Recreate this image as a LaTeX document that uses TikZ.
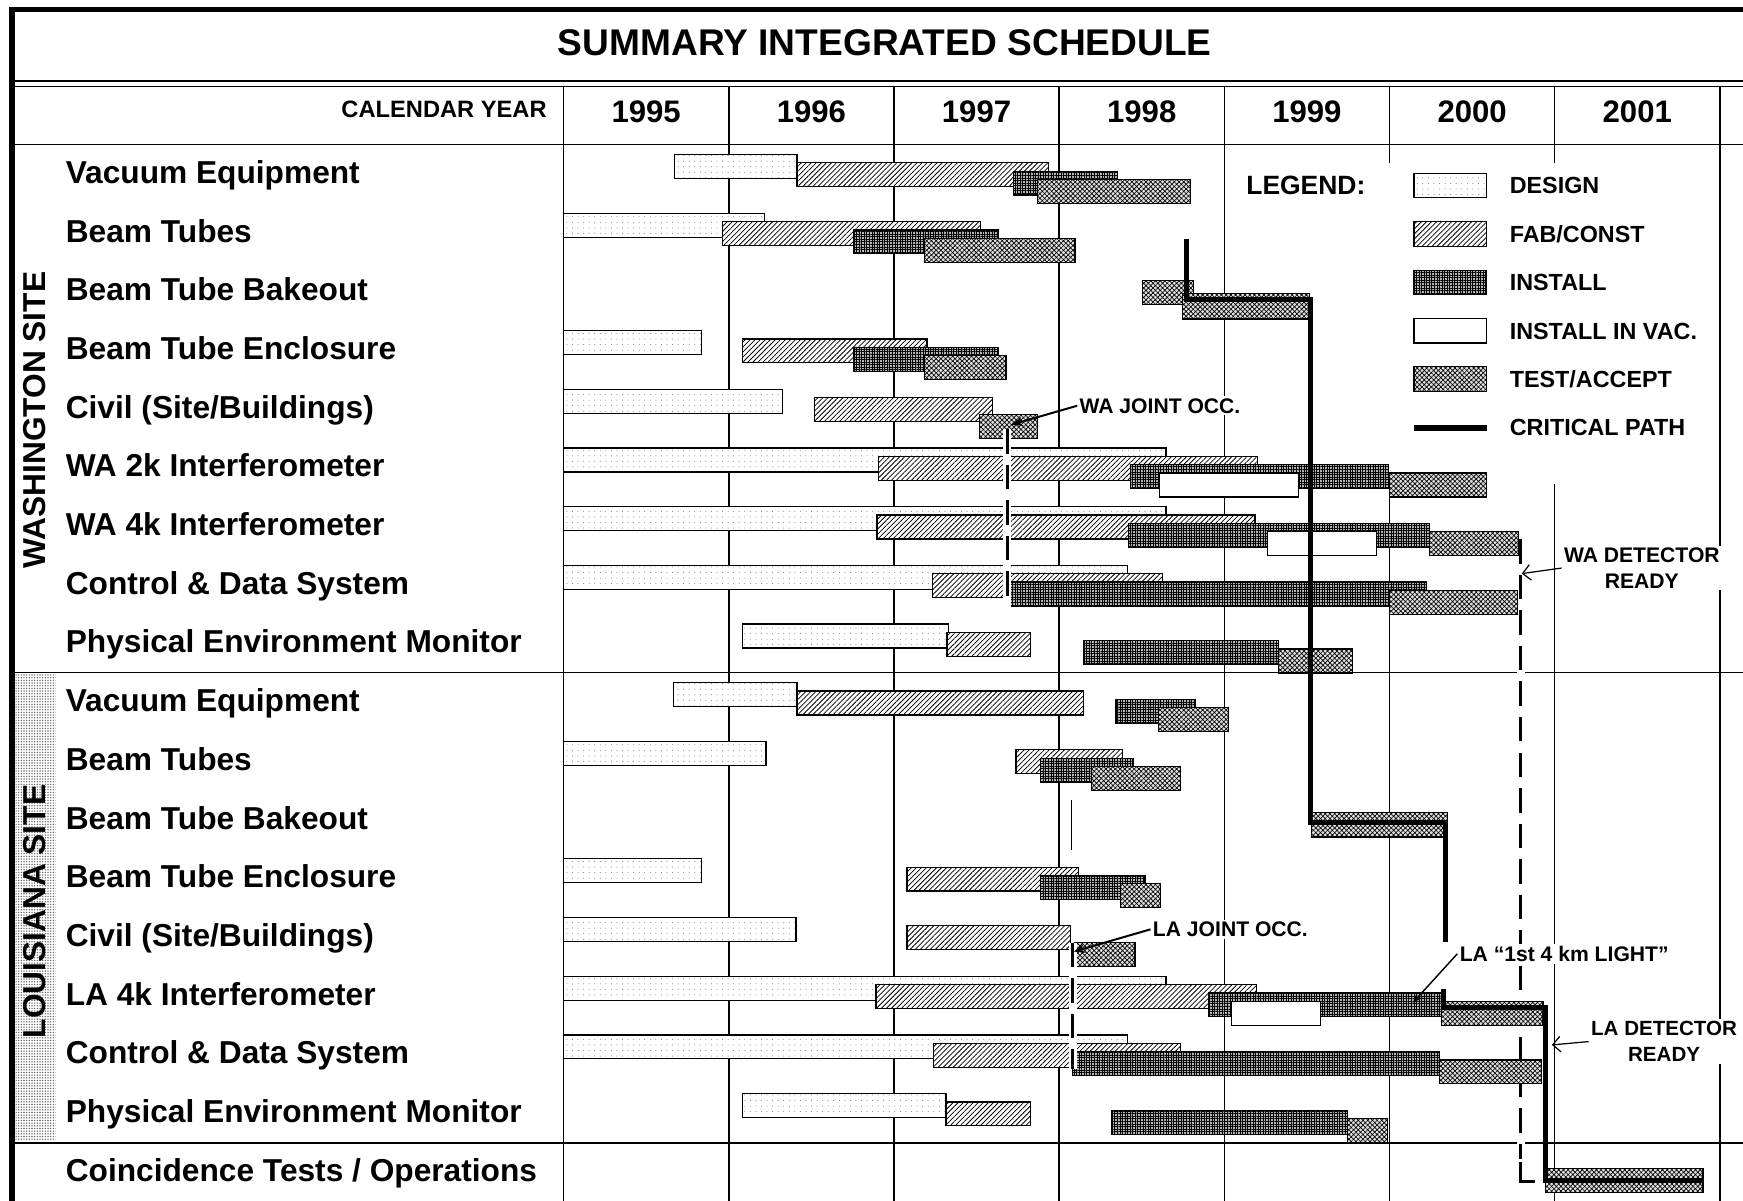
\documentclass[tikz,border=0pt]{standalone}
\usepackage{fontspec}
\setmainfont{Liberation Sans}
\usetikzlibrary{patterns.meta,arrows.meta}
\tikzset{bar/.style={draw=black, line width=1.1pt},
  design/.style={bar, preaction={fill=white}, pattern={Dots[distance=5pt,radius=0.45pt]}, pattern color=black!55},
  fab/.style={bar, preaction={fill=white}, pattern={Lines[angle=45,distance=3.2pt,line width=0.7pt]}},
  install/.style={bar, preaction={fill=black!30}, pattern={Hatch[angle=0,distance=2.3pt,line width=0.5pt]}},
  invac/.style={bar, fill=white},
  test/.style={bar, preaction={fill=black!12}, pattern={Hatch[angle=45,distance=3pt,line width=0.6pt]}},
  critpath/.style={line width=4.5pt},
  gridline/.style={line width=1.3pt},
  rowlabel/.style={font=\fontsize{28.5}{30}\selectfont\bfseries, anchor=base west, inner sep=0pt},
  yearlabel/.style={font=\fontsize{28}{30}\selectfont\bfseries, anchor=base, inner sep=0pt},
  sitelabel/.style={font=\fontsize{28.5}{30}\selectfont\bfseries, rotate=90, inner sep=0pt},
  legendtext/.style={font=\fontsize{21}{23}\selectfont\bfseries, anchor=base west, inner sep=0pt},
  note/.style={font=\fontsize{19}{23}\selectfont\bfseries, fill=white, inner sep=2pt, align=center},
  notearrow/.style={line width=1.8pt, -{Stealth[length=10pt,width=8pt]}},
  readyarrow/.style={line width=1.1pt, -{Straight Barb[length=7pt,width=14pt]}},
  jointcase/.style={white, line width=7pt},
  jointdash/.style={line width=2.6pt, dash pattern=on 22pt off 10pt}}
% row r, level k -> bar
\newcommand{\phasebar}[5]{\draw[#1] (#4,{139+52.8*#2+7.5*#3}) rectangle (#5,{160.5+52.8*#2+7.5*#3});}

\begin{document}
\begin{tikzpicture}[x=1pt,y=-1pt]
\useasboundingbox (0,0) rectangle (1568,1080);
\clip (0,0) rectangle (1568,1080);

% frame and rules
\draw[line width=4.5pt] (8.5,8.5)--(1568,8.5);
\draw[line width=5pt] (11,6)--(11,1080);
\draw[line width=1.2pt] (11,73)--(1568,73);
\draw[line width=1.2pt] (11,78)--(1568,78);
\draw[line width=1.5pt] (11,130)--(1568,130);
\draw[line width=1.5pt] (11,605)--(1568,605);
\draw[line width=1.5pt] (11,1028)--(1568,1028);
\draw[gridline] (507,78)--(507,1080);
\draw[gridline] (655.6,78)--(655.6,1080);
\draw[gridline] (804.2,78)--(804.2,1080);
\draw[gridline] (952.8,78)--(952.8,1080);
\draw[gridline] (1101.4,78)--(1101.4,1080);
\draw[gridline] (1250,78)--(1250,1080);
\draw[gridline] (1398.6,78)--(1398.6,1080);
\draw[gridline] (1547.2,78)--(1547.2,1080);
\fill[white] (1245,147) rectangle (1540,435);
\fill[pattern={Dots[distance=2.4pt,radius=0.7pt]}, pattern color=black!60] (14,607) rectangle (50,1026);

% headings
\node[font=\fontsize{33.4}{36}\selectfont\bfseries, anchor=base, inner sep=0pt] (title) at (796,50) {SUMMARY INTEGRATED SCHEDULE};
\node[font=\fontsize{21.3}{23}\selectfont\bfseries, anchor=base east, inner sep=0pt] (calyear) at (492,106) {CALENDAR YEAR};
\node[yearlabel] (y95) at (581.3,110) {1995};
\node[yearlabel] (y96) at (729.9,110) {1996};
\node[yearlabel] (y97) at (878.5,110) {1997};
\node[yearlabel] (y98) at (1027.1,110) {1998};
\node[yearlabel] (y99) at (1175.7,110) {1999};
\node[yearlabel] (y00) at (1324.3,110) {2000};
\node[yearlabel] (y01) at (1472.9,110) {2001};

\node[sitelabel] (wa-site) at (31,378) {WASHINGTON SITE};
\node[sitelabel] (la-site) at (31,820) {LOUISIANA SITE};

\node[rowlabel] (wa-vac) at (59,165) {Vacuum Equipment};
\node[rowlabel] (wa-tube) at (59,217.8) {Beam Tubes};
\node[rowlabel] (wa-bake) at (59,270.6) {Beam Tube Bakeout};
\node[rowlabel] (wa-encl) at (59,323.4) {Beam Tube Enclosure};
\node[rowlabel] (wa-civil) at (59,376.2) {Civil (Site/Buildings)};
\node[rowlabel] (wa-2k) at (59,429) {WA 2k Interferometer};
\node[rowlabel] (wa-4k) at (59,481.8) {WA 4k Interferometer};
\node[rowlabel] (wa-cds) at (59,534.6) {Control \& Data System};
\node[rowlabel] (wa-pem) at (59,587.4) {Physical Environment Monitor};
\node[rowlabel] (la-vac) at (59,640.2) {Vacuum Equipment};
\node[rowlabel] (la-tube) at (59,693) {Beam Tubes};
\node[rowlabel] (la-bake) at (59,745.8) {Beam Tube Bakeout};
\node[rowlabel] (la-encl) at (59,798.6) {Beam Tube Enclosure};
\node[rowlabel] (la-civil) at (59,851.4) {Civil (Site/Buildings)};
\node[rowlabel] (la-4k) at (59,904.2) {LA 4k Interferometer};
\node[rowlabel] (la-cds) at (59,957) {Control \& Data System};
\node[rowlabel] (la-pem) at (59,1009.8) {Physical Environment Monitor};
\node[rowlabel] (coinc) at (59,1062.6) {Coincidence Tests / Operations};

% detector ready line (behind the bars)
\draw[jointcase] (1368,485)--(1368,1045);
\draw[jointdash] (1368,485)--(1368,1043);
\draw[line width=2.6pt] (1368,1045)--(1368,1063)--(1381,1063);

% Washington bars
\phasebar{design}{0}{0}{607}{717}
\phasebar{fab}{0}{1}{717}{943}
\phasebar{install}{0}{2}{912}{1005}
\phasebar{test}{0}{3}{933}{1071}
\phasebar{design}{1}{0}{507}{688}
\phasebar{fab}{1}{1}{650}{882}
\phasebar{install}{1}{2}{768}{898}
\phasebar{test}{1}{3}{832}{967}
\draw[test] (1028,252) rectangle (1074,274);
\draw[test] (1064,264) rectangle (1178,287);
\phasebar{design}{3}{0}{507}{631}
\phasebar{fab}{3}{1}{668}{834}
\phasebar{install}{3}{2}{768}{898}
\phasebar{test}{3}{3}{832}{905}
\phasebar{design}{4}{0}{507}{704}
\phasebar{fab}{4}{1}{733}{893}
\phasebar{test}{4}{3}{881}{933}
\phasebar{design}{5}{0}{507}{1049}
\phasebar{fab}{5}{1}{790}{1131}
\phasebar{install}{5}{2}{1017}{1249}
\phasebar{invac}{5}{3}{1043}{1168}
\phasebar{test}{5}{3}{1250}{1337}
\phasebar{design}{6}{0}{507}{1049}
\phasebar{fab}{6}{1}{789}{1129}
\phasebar{install}{6}{2}{1015}{1286}
\phasebar{invac}{6}{3}{1140}{1238}
\phasebar{test}{6}{3}{1286}{1366}
\phasebar{design}{7}{0}{507}{1014}
\phasebar{fab}{7}{1}{839}{1046}
\phasebar{install}{7}{2}{905}{1283}
\phasebar{test}{7}{3}{1250}{1365}
\phasebar{design}{8}{0}{668}{853}
\phasebar{fab}{8}{1}{852}{927}
\phasebar{install}{8}{2}{975}{1150}
\phasebar{test}{8}{3}{1150}{1217}

% Louisiana bars
\phasebar{design}{9}{0}{606}{717}
\phasebar{fab}{9}{1}{717}{975}
\phasebar{install}{9}{2}{1004}{1075}
\phasebar{test}{9}{3}{1042}{1105}
\phasebar{design}{10}{0}{507}{689}
\phasebar{fab}{10}{1}{914}{1010}
\phasebar{install}{10}{2}{936}{1020}
\phasebar{test}{10}{3}{982}{1062}
\draw[test] (1180,731) rectangle (1302,753);
\phasebar{design}{12}{0}{507}{631}
\phasebar{fab}{12}{1}{816}{970}
\phasebar{install}{12}{2}{936}{1030}
\phasebar{test}{12}{3}{1008}{1044}
\phasebar{design}{13}{0}{507}{716}
\phasebar{fab}{13}{1}{816}{963}
\phasebar{test}{13}{3}{967}{1021}
\phasebar{design}{14}{0}{507}{1049}
\phasebar{fab}{14}{1}{788}{1130}
\phasebar{install}{14}{2}{1087}{1298}
\phasebar{invac}{14}{3}{1108}{1188}
\phasebar{test}{14}{3}{1297}{1388}
\phasebar{design}{15}{0}{507}{1014}
\phasebar{fab}{15}{1}{840}{1062}
\phasebar{install}{15}{2}{965}{1295}
\phasebar{test}{15}{3}{1295}{1387}
\phasebar{design}{16}{0}{668}{851}
\phasebar{fab}{16}{1}{851}{927}
\phasebar{install}{16}{2}{1000}{1212}
\phasebar{test}{16}{3}{1212}{1248}
\draw[test] (1390,1051) rectangle (1532,1073);

% joint occupancy lines
\draw[jointcase] (906,386)--(906,546);
\draw[jointdash] (906,386)--(906,546);
\draw[line width=1.5pt] (964,720)--(964,765);
\draw[jointcase] (965,848)--(965,962);
\draw[jointdash] (965,848)--(965,962);

% critical path
\draw[critpath] (1067,215)--(1067,269)--(1179,269)--(1179,740)--(1300,740)--(1300,847);
\draw[critpath] (1299,890)--(1299,906)--(1390,906)--(1390,1062)--(1532,1062);

% legend
\node[font=\fontsize{23.8}{26}\selectfont\bfseries, anchor=base west, inner sep=0pt] (legend) at (1121,175) {LEGEND:};
\draw[design] (1272,156) rectangle (1337,178);
\draw[fab] (1272,199.5) rectangle (1337,221.5);
\draw[install] (1272,243) rectangle (1337,265);
\draw[invac] (1272,286.5) rectangle (1337,308.5);
\draw[test] (1272,330) rectangle (1337,352);
\draw[line width=5pt] (1272,385)--(1338,385);
\node[legendtext] (lg-design) at (1358,174.5) {DESIGN};
\node[legendtext] (lg-fab) at (1358,218) {FAB/CONST};
\node[legendtext] (lg-inst) at (1358,261.5) {INSTALL};
\node[legendtext] (lg-vac) at (1358,305) {INSTALL IN VAC.};
\node[legendtext] (lg-test) at (1358,348.5) {TEST/ACCEPT};
\node[legendtext] (lg-crit) at (1358,392) {CRITICAL PATH};

% milestones
\node[note, anchor=west] (wa-joint) at (969,365) {WA JOINT OCC.};
\coordinate (wa-joint-tip) at (910,382);
\draw[notearrow] (wa-joint.west)--(wa-joint-tip);
\node[note] (wa-ready) at (1477,511) {WA DETECTOR\\READY};
\coordinate (wa-ready-tip) at (1369,516);
\draw[readyarrow] (wa-ready.west)--(wa-ready-tip);
\node[note, anchor=west] (la-joint) at (1035,836) {LA JOINT OCC.};
\coordinate (la-joint-tip) at (966,856);
\draw[notearrow] (la-joint.west)--(la-joint-tip);
\node[note, anchor=west] (la-light) at (1311,858) {LA “1st 4 km LIGHT”};
\coordinate (la-light-tip) at (1271,902);
\draw[line width=1.3pt, -{Stealth[length=9pt,width=7pt]}] (la-light.west)--(la-light-tip);
\node[note, font=\fontsize{18.5}{23}\selectfont\bfseries] (la-ready) at (1497,937) {LA DETECTOR\\READY};
\coordinate (la-ready-tip) at (1396,940);
\draw[readyarrow] (la-ready.west)--(la-ready-tip);
\end{tikzpicture}
\end{document}
